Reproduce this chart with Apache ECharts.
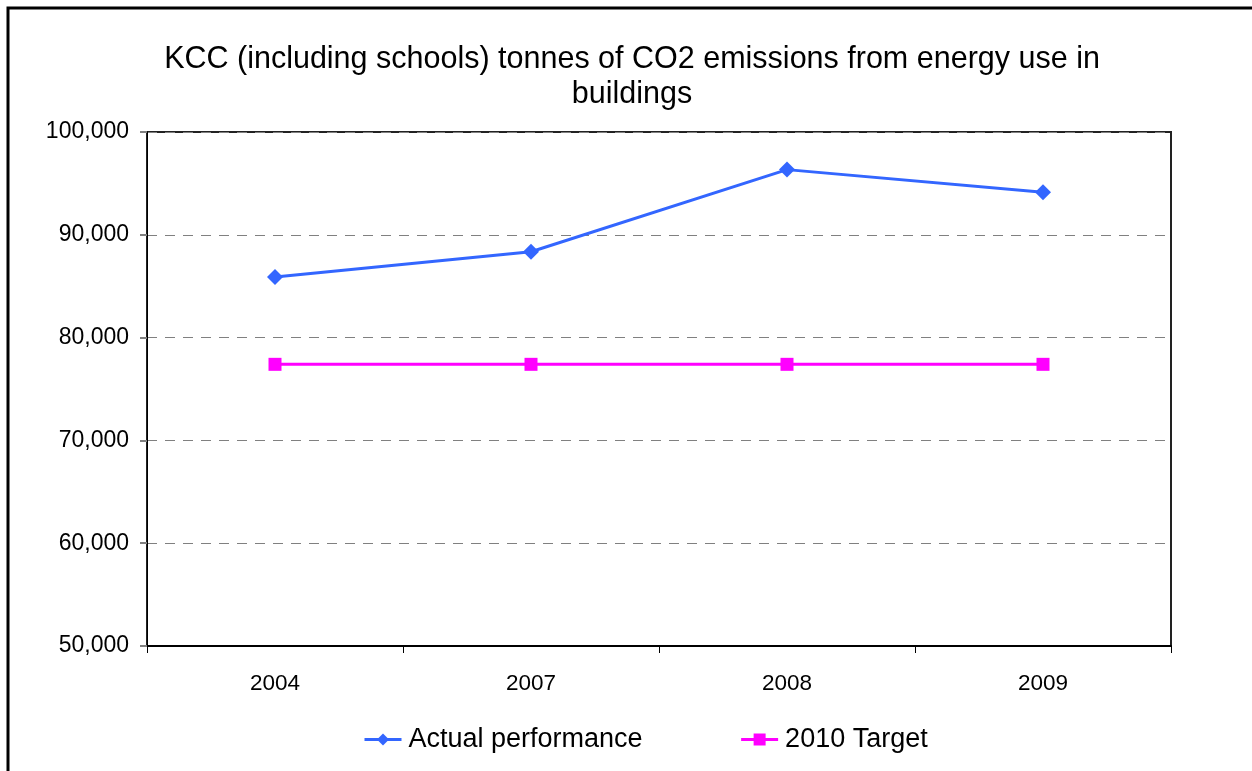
<!DOCTYPE html>
<html lang="en">
<head>
    <meta charset="UTF-8">
    <title>KCC CO2 emissions</title>
    <style>
        html, body { margin: 0; padding: 0; background: #fff; }
        #chart { width: 1252px; height: 771px; }
    </style>
</head>
<body>
    <div id="chart"></div>
    <script src="https://cdn.jsdelivr.net/npm/echarts@6/dist/echarts.min.js"></script>
    <script>
        var years = ['2004', '2007', '2008', '2009'];
        var actual = [85900, 88350, 96340, 94130];
        var target = [77400, 77400, 77400, 77400];
        var yTicks = [50000, 60000, 70000, 80000, 90000, 100000];

        var font = '"Liberation Sans", Arial, sans-serif';

        var chart = echarts.init(document.getElementById('chart'));
        chart.setOption({
            animation: false,
            backgroundColor: '#fff',
            textStyle: { fontFamily: font },
            graphic: [
                {   // outer frame, only left and top are visible
                    type: 'rect',
                    shape: { x: 8, y: 8, width: 1300, height: 800 },
                    style: { fill: 'none', stroke: '#000', lineWidth: 3 }
                }
            ],
            title: {
                text: 'KCC (including schools) tonnes of CO2 emissions from energy use in\nbuildings',
                left: 627,
                top: 37,
                textAlign: 'center',
                textStyle: {
                    fontFamily: font,
                    fontSize: 30.5,
                    fontWeight: 'normal',
                    color: '#000',
                    lineHeight: 35
                }
            },
            legend: {
                left: 363,
                top: 726,
                padding: 0,
                itemWidth: 37,
                itemHeight: 15,
                itemGap: 97,
                lineStyle: { width: 3 },
                textStyle: { fontFamily: font, fontSize: 27, color: '#000', padding: [0, 0, 0, 2] },
                data: ['Actual performance', '2010 Target']
            },
            grid: {
                left: 147,
                right: 81,
                top: 132,
                bottom: 125,
                show: true,
                borderColor: '#222',
                borderWidth: 2,
                backgroundColor: 'transparent'
            },
            xAxis: {
                type: 'category',
                data: years,
                boundaryGap: true,
                axisLine: { lineStyle: { color: '#000', width: 2 } },
                axisTick: { show: true, length: 7, lineStyle: { color: '#000' } },
                axisLabel: { fontFamily: font, fontSize: 22.5, color: '#000', margin: 26 },
                splitLine: { show: false }
            },
            yAxis: {
                type: 'value',
                min: yTicks[0],
                max: yTicks[yTicks.length - 1],
                interval: 10000,
                axisLine: { show: true, lineStyle: { color: '#000', width: 1 } },
                axisTick: { show: true, length: 7, lineStyle: { color: '#808080', width: 2 } },
                axisLabel: {
                    fontFamily: font, fontSize: 23, color: '#000', margin: 18,
                    formatter: function (v) { return v.toLocaleString('en-US'); }
                },
                splitLine: { show: true, lineStyle: { color: '#808080', type: [10, 8], width: 1 } }
            },
            series: [
                {
                    name: 'Actual performance',
                    type: 'line',
                    data: actual,
                    symbol: 'diamond',
                    symbolSize: 16,
                    itemStyle: { color: '#3366ff' },
                    lineStyle: { color: '#3366ff', width: 3 }
                },
                {
                    name: '2010 Target',
                    type: 'line',
                    data: target,
                    symbol: 'rect',
                    symbolSize: 13,
                    itemStyle: { color: '#ff00ff' },
                    lineStyle: { color: '#ff00ff', width: 3 }
                }
            ]
        });
    </script>
</body>
</html>
